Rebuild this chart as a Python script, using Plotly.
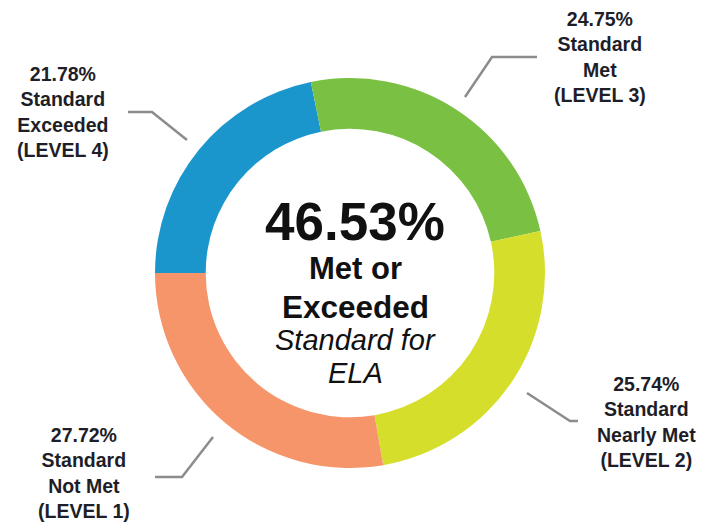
import plotly.graph_objects as go

W, H = 708, 524
OFF = 8  # browser default body margin
FW, FH = W - OFF, H - OFF

# ---- data ----
categories = ["Standard Exceeded (LEVEL 4)", "Standard Met (LEVEL 3)",
              "Standard Nearly Met (LEVEL 2)", "Standard Not Met (LEVEL 1)"]
values = [21.78, 24.75, 25.74, 27.72]
label_lines = [["Standard", "Exceeded", "(LEVEL 4)"],
               ["Standard", "Met", "(LEVEL 3)"],
               ["Standard", "Nearly Met", "(LEVEL 2)"],
               ["Standard", "Not Met", "(LEVEL 1)"]]
colors = ["#1a96cd", "#7ac143", "#d5de2b", "#f6956a"]
met_or_exceeded = values[0] + values[1]

FONT = "Liberation Sans, Arial, sans-serif"


def px(x):
    return (x - OFF) / FW


def py(y):
    return 1 - (y - OFF) / FH


fig = go.Figure(go.Pie(
    labels=categories,
    values=values,
    hole=0.74,
    sort=False,
    direction="clockwise",
    rotation=270,
    marker=dict(colors=colors, line=dict(width=0)),
    textinfo="none",
    showlegend=False,
    domain=dict(x=[px(155), px(545)], y=[py(468), py(78)]),
))

annotations = []
# center text
center_lines = [
    (f"<b>{met_or_exceeded:.2f}%</b>", 53, 221),
    ("<b>Met or</b>", 31, 268),
    ("<b>Exceeded</b>", 31.5, 307),
    ("<i>Standard for</i>", 29, 340),
    ("<i>ELA</i>", 29, 373),
]
for txt, size, yc in center_lines:
    annotations.append(dict(
        x=px(355), y=py(yc), xref="paper", yref="paper",
        text=txt, showarrow=False, xanchor="center", yanchor="middle",
        font=dict(family=FONT, size=size, color="#111111"),
    ))

# outside labels: (center x, center y)
label_pos = [(63, 112), (600, 57), (646, 422), (84, 473)]
for v, lines, (cx, cy) in zip(values, label_lines, label_pos):
    txt = "<br>".join([f"<b>{v:.2f}%</b>"] + [f"<b>{l}</b>" for l in lines])
    annotations.append(dict(
        x=px(cx), y=py(cy), xref="paper", yref="paper",
        text=txt, showarrow=False, xanchor="center", yanchor="middle",
        align="center",
        font=dict(family=FONT, size=19.5, color="#1e1e28"),
    ))

# leader lines
leaders = [
    [(128, 112), (152, 112), (187, 140)],
    [(537, 57), (492, 57), (465, 97)],
    [(527, 393), (570, 421), (578, 421)],
    [(155, 477), (182, 477), (213, 437)],
]
shapes = []
for pts in leaders:
    path = "M " + " L ".join(f"{px(x)},{py(y)}" for x, y in pts)
    shapes.append(dict(type="path", xref="paper", yref="paper", path=path,
                       line=dict(color="#8c8c8c", width=2.5)))

fig.update_layout(
    width=FW, height=FH,
    margin=dict(l=0, r=0, t=0, b=0),
    paper_bgcolor="white", plot_bgcolor="white",
    annotations=annotations, shapes=shapes,
)

fig.write_html("out.html")
